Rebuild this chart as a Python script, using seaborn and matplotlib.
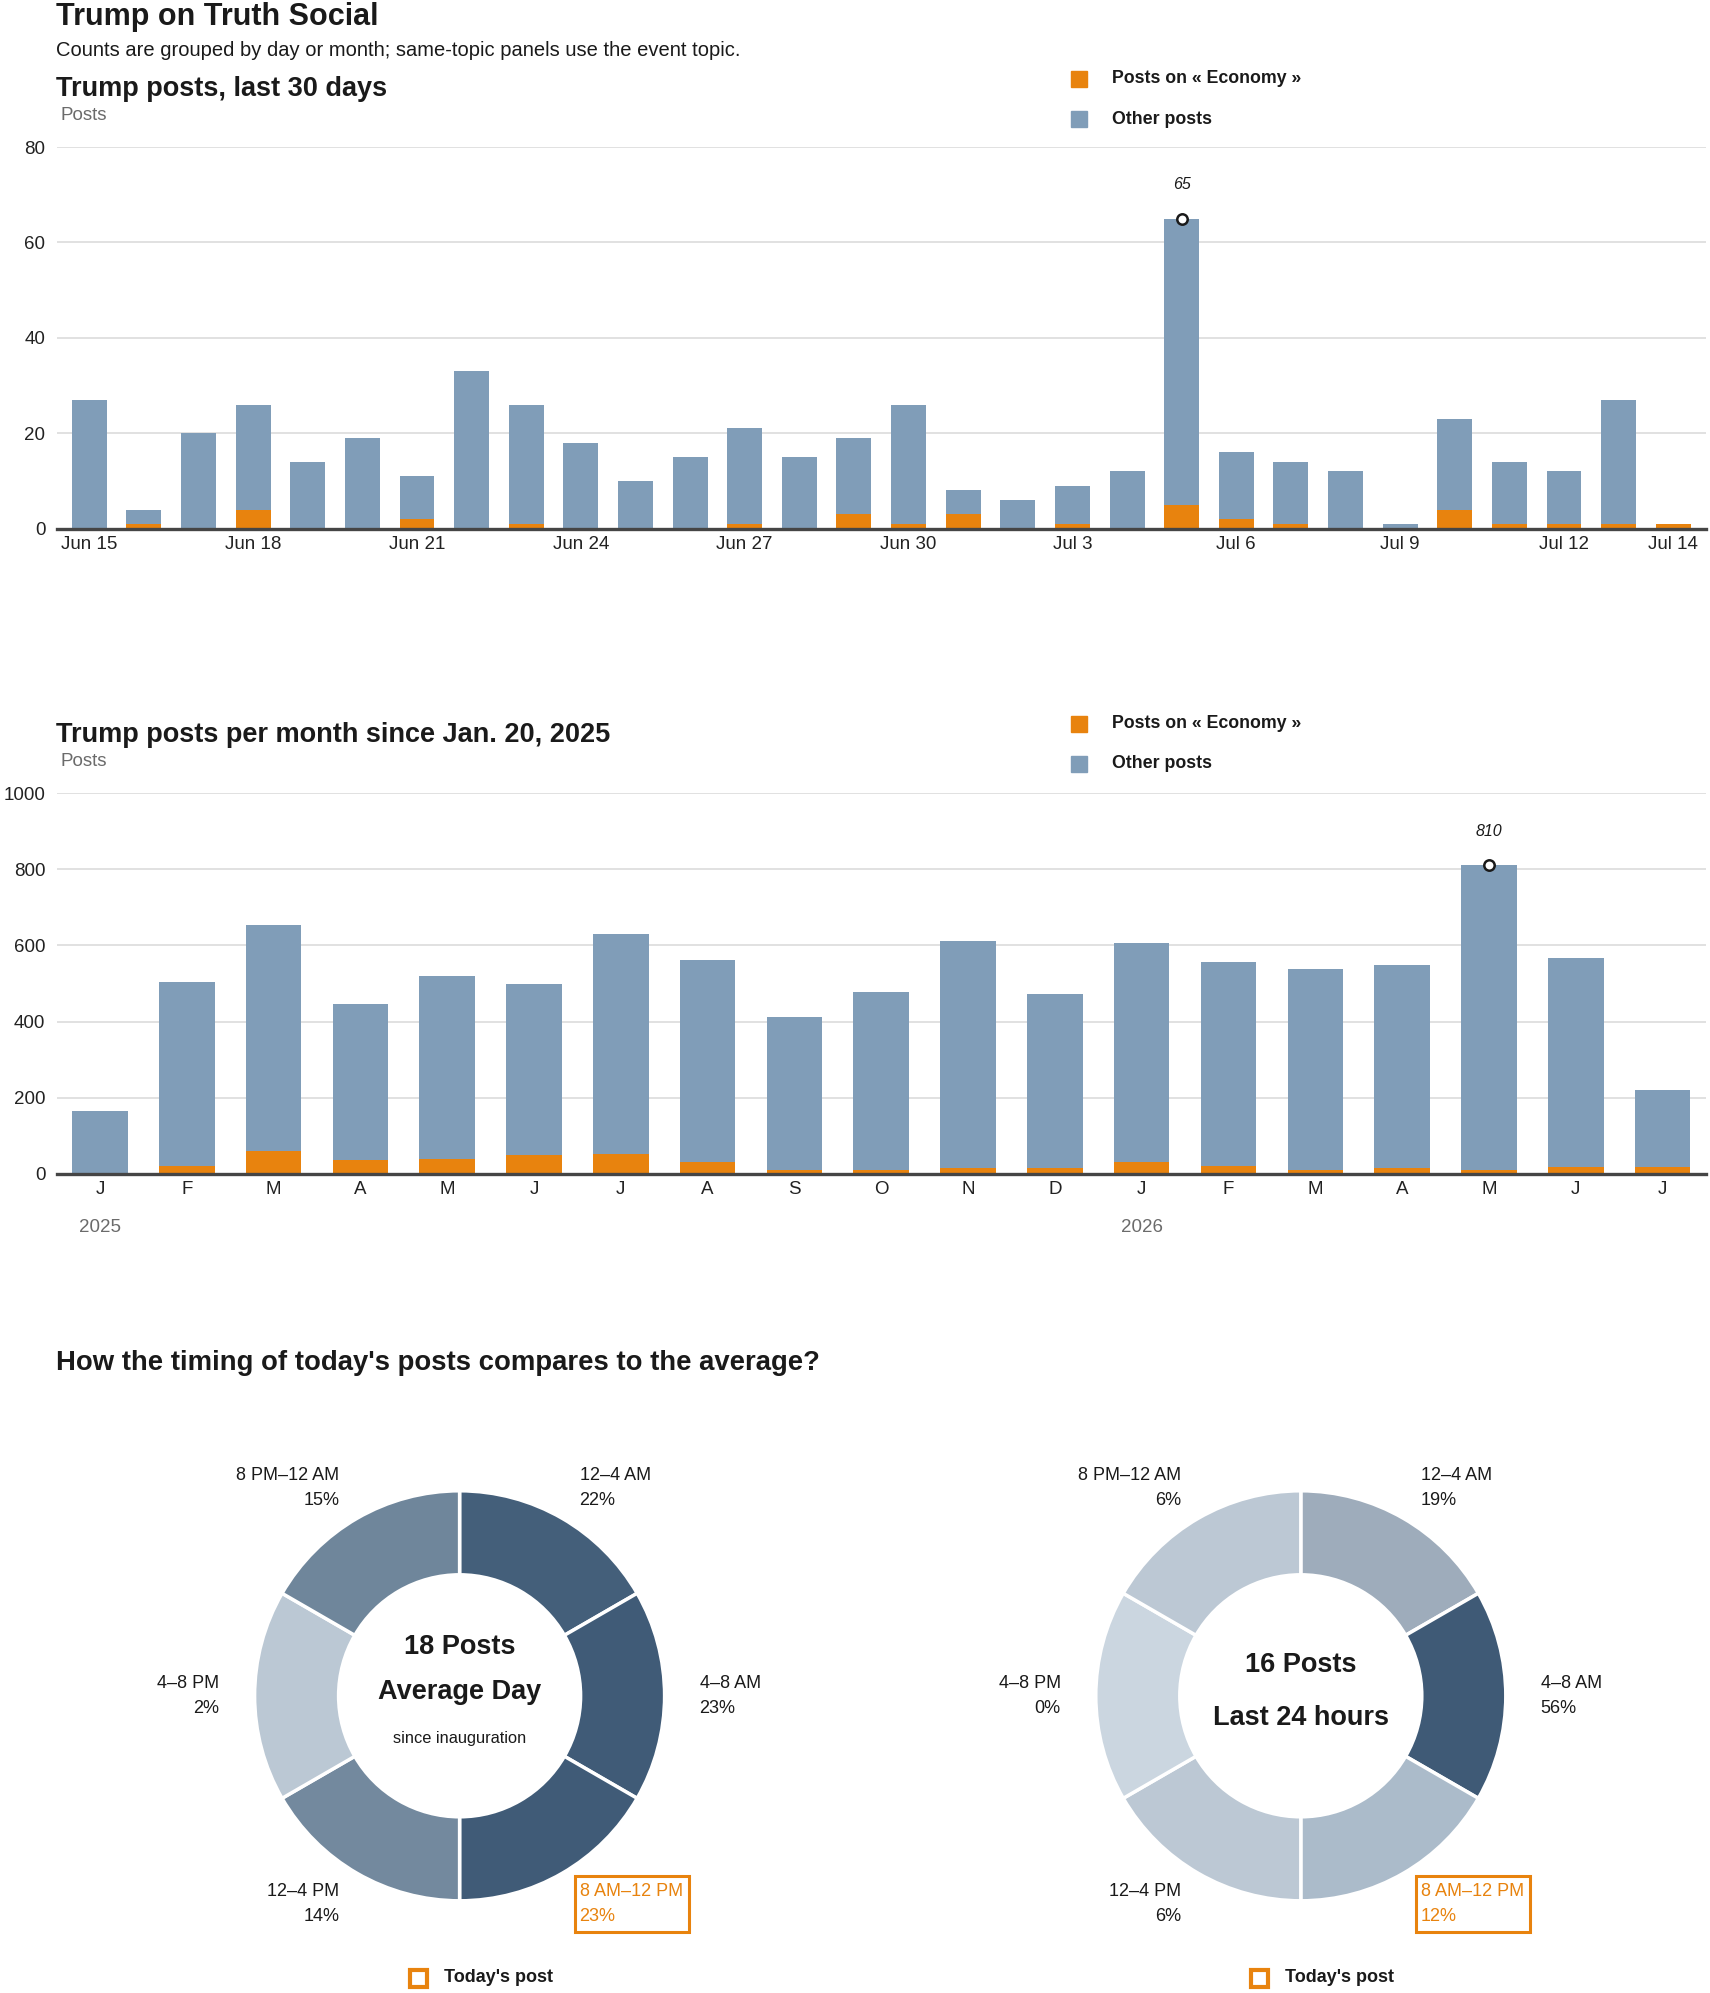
import numpy as np
import pandas as pd
import seaborn as sns
import matplotlib
matplotlib.use("Agg")
import matplotlib.pyplot as plt
from matplotlib.patches import Rectangle

# ---- data ----
day_labels = ["Jun 15", "Jun 16", "Jun 17", "Jun 18", "Jun 19", "Jun 20", "Jun 21", "Jun 22",
              "Jun 23", "Jun 24", "Jun 25", "Jun 26", "Jun 27", "Jun 28", "Jun 29", "Jun 30",
              "Jul 1", "Jul 2", "Jul 3", "Jul 4", "Jul 5", "Jul 6", "Jul 7", "Jul 8",
              "Jul 9", "Jul 10", "Jul 11", "Jul 12", "Jul 13", "Jul 14"]
day_total = [27, 4, 20, 26, 14, 19, 11, 33, 26, 18, 10, 15, 21, 15, 19, 26,
             8, 6, 9, 12, 65, 16, 14, 12, 1, 23, 14, 12, 27, 1]
day_economy = [0, 1, 0, 4, 0, 0, 2, 0, 1, 0, 0, 0, 1, 0, 3, 1,
               3, 0, 1, 0, 5, 2, 1, 0, 0, 4, 1, 1, 1, 1]
day_ticks = ["Jun 15", "Jun 18", "Jun 21", "Jun 24", "Jun 27", "Jun 30",
             "Jul 3", "Jul 6", "Jul 9", "Jul 12", "Jul 14"]

month_keys = ["2025-01", "2025-02", "2025-03", "2025-04", "2025-05", "2025-06", "2025-07",
              "2025-08", "2025-09", "2025-10", "2025-11", "2025-12", "2026-01", "2026-02",
              "2026-03", "2026-04", "2026-05", "2026-06", "2026-07"]
month_letters = ["J", "F", "M", "A", "M", "J", "J", "A", "S", "O", "N", "D",
                 "J", "F", "M", "A", "M", "J", "J"]
month_total = [165, 504, 654, 447, 520, 499, 630, 562, 412, 477, 612, 473,
               607, 556, 538, 549, 810, 568, 220]
month_economy = [2, 21, 60, 37, 39, 50, 53, 32, 10, 10, 17, 17, 32, 21, 10, 17, 10, 19, 19]
year_marks = {"2025-01": "2025", "2026-01": "2026"}

slots = ["12–4 AM", "4–8 AM", "8 AM–12 PM", "12–4 PM", "4–8 PM", "8 PM–12 AM"]
avg_pct = [22, 23, 23, 14, 2, 15]
today_pct = [19, 56, 12, 6, 0, 6]
avg_posts = 18
today_posts = 16
today_slot = "8 AM–12 PM"

# ---- style ----
ORANGE = "#e8830e"
BLUE = "#809db8"
INK = "#1a1a1a"
GREY = "#6b6b6b"
avg_colors = ["#445f7a", "#405b77", "#405b77", "#73899e", "#bbc8d4", "#6f869b"]
today_colors = ["#9eacbb", "#3f5a76", "#abbbca", "#bcc8d4", "#cbd6e0", "#bcc8d4"]

sns.set_theme(style="white")
FONT = ["Liberation Sans", "DejaVu Sans"]
plt.rcParams["font.family"] = FONT

W, H = 1710, 1993
fig = plt.figure(figsize=(W / 100, H / 100), dpi=100)


def fx(x):
    return x / W


def fy(y):
    return 1 - y / H


def add_bar_axes(top_px, bottom_px):
    return fig.add_axes([fx(56.5), fy(bottom_px), fx(1706) - fx(56.5), (bottom_px - top_px) / H])


def style_axes(ax, ymax, step):
    ax.set_ylim(0, ymax)
    ax.set_yticks(np.arange(0, ymax + 1, step))
    ax.grid(axis="y", color="#dcdcdc", linewidth=1.2)
    ax.grid(axis="x", visible=False)
    ax.set_axisbelow(True)
    for s in ["top", "right", "left"]:
        ax.spines[s].set_visible(False)
    ax.spines["bottom"].set_color("#454545")
    ax.spines["bottom"].set_linewidth(2.4)
    ax.spines["bottom"].set_zorder(5)
    ax.tick_params(axis="both", length=0, labelsize=13.5, colors="#222222")
    ax.tick_params(axis="y", pad=8)
    ax.tick_params(axis="x", pad=5)
    ax.set_xlabel("")
    ax.set_ylabel("")


def legend_block(y1, y2):
    for yy, col, lab in [(y1, ORANGE, "Posts on « Economy »"), (y2, BLUE, "Other posts")]:
        fig.patches.append(Rectangle((fx(1071), fy(yy + 8)), 16 / W, 16 / H,
                                     transform=fig.transFigure, color=col))
        fig.text(fx(1112), fy(yy), lab, fontsize=12.8, fontweight="bold", color=INK,
                 va="center", ha="left")


def mark_peak(ax, xs, totals):
    i = int(np.argmax(totals))
    ax.plot([xs[i]], [totals[i]], marker="o", ms=7.5, mfc="white", mec=INK, mew=1.8,
            zorder=6, clip_on=False)
    ax.annotate(str(totals[i]), (xs[i], totals[i]), xytext=(0, 19), textcoords="offset points",
                ha="center", va="bottom", fontsize=11.5, fontstyle="italic", color=INK)


# ---- header ----
fig.text(fx(56), fy(17), "Trump on Truth Social", fontsize=22, fontweight="bold",
         color=INK, va="center", ha="left")
fig.text(fx(56), fy(51), "Counts are grouped by day or month; same-topic panels use the event topic.",
         fontsize=14.5, color=INK, va="center", ha="left")

# ---- panel 1: last 30 days ----
daily = pd.DataFrame({"day": day_labels, "total": day_total, "economy": day_economy})
ax1 = add_bar_axes(147, 528.6)
sns.barplot(data=daily, x="day", y="total", color=BLUE, saturation=1, width=0.64,
            linewidth=0, ax=ax1)
sns.barplot(data=daily, x="day", y="economy", color=ORANGE, saturation=1, width=0.64,
            linewidth=0, ax=ax1)
style_axes(ax1, 80, 20)
ax1.set_xlim(-0.6, len(day_labels) - 0.4)
ax1.set_xticks([day_labels.index(t) for t in day_ticks])
ax1.set_xticklabels(day_ticks)
mark_peak(ax1, np.arange(len(day_total)), day_total)
fig.text(fx(56), fy(89), "Trump posts, last 30 days", fontsize=19.5, fontweight="bold",
         color=INK, va="center", ha="left")
fig.text(fx(60), fy(116), "Posts", fontsize=13.5, color=GREY, va="center", ha="left")
legend_block(78.6, 119)

# ---- panel 2: monthly ----
monthly = pd.DataFrame({"month": month_keys, "total": month_total, "economy": month_economy})
ax2 = add_bar_axes(793, 1174)
sns.barplot(data=monthly, x="month", y="total", color=BLUE, saturation=1, width=0.64,
            linewidth=0, ax=ax2)
sns.barplot(data=monthly, x="month", y="economy", color=ORANGE, saturation=1, width=0.64,
            linewidth=0, ax=ax2)
style_axes(ax2, 1000, 200)
ax2.set_xlim(-0.5, len(month_keys) - 0.5)
ax2.set_xticks(range(len(month_keys)))
ax2.set_xticklabels(month_letters)
mark_peak(ax2, np.arange(len(month_total)), month_total)
for key, yr in year_marks.items():
    ax2.annotate(yr, (month_keys.index(key), 0), xycoords=("data", "axes fraction"),
                 xytext=(0, -53), textcoords="offset pixels", ha="center", va="center",
                 fontsize=13.5, color=GREY)
fig.text(fx(56), fy(735), "Trump posts per month since Jan. 20, 2025", fontsize=19.5,
         fontweight="bold", color=INK, va="center", ha="left")
fig.text(fx(60), fy(761), "Posts", fontsize=13.5, color=GREY, va="center", ha="left")
legend_block(724, 764)

# ---- donuts ----
fig.text(fx(56), fy(1363), "How the timing of today's posts compares to the average?",
         fontsize=19.8, fontweight="bold", color=INK, va="center", ha="left")

R_OUT, R_IN, R_LAB = 205, 121, 240


def donut(cx, cy, pcts, colors, line1, line2, line3):
    half = 330
    ax = fig.add_axes([fx(cx - half), fy(cy + half), 2 * half / W, 2 * half / H])
    ax.pie([1] * len(slots), colors=colors, startangle=90, counterclock=False, radius=R_OUT,
           wedgeprops=dict(width=R_OUT - R_IN, edgecolor="white", linewidth=2.5))
    ax.set_xlim(-half, half)
    ax.set_ylim(-half, half)
    ax.set_aspect("equal")
    ax.axis("off")
    for k, (slot, p) in enumerate(zip(slots, pcts)):
        ang = np.deg2rad(90 - 60 * k - 30)
        lx, ly = R_LAB * np.cos(ang), R_LAB * np.sin(ang)
        ha = "left" if lx > 1 else "right"
        col = ORANGE if slot == today_slot else INK
        ax.text(lx, ly, f"{slot}\n{p}%", ha=ha, va="center", fontsize=13, color=col,
                linespacing=1.6)
        if slot == today_slot:
            ax.add_patch(Rectangle((lx - 5, ly - 28), 114, 56, fill=False, edgecolor=ORANGE,
                                   linewidth=2.2, clip_on=False))
    if line3:
        ax.text(0, 48.8, line1, ha="center", va="center", fontsize=19.5, fontweight="bold",
                color=INK)
        ax.text(0, 3.8, line2, ha="center", va="center", fontsize=19.5, fontweight="bold",
                color=INK)
        ax.text(0, -43.2, line3, ha="center", va="center", fontsize=11.8, color=INK)
    else:
        ax.text(0, 30.8, line1, ha="center", va="center", fontsize=19.5, fontweight="bold",
                color=INK)
        ax.text(0, -22.2, line2, ha="center", va="center", fontsize=19.5, fontweight="bold",
                color=INK)
    # today's post key
    ax.add_patch(Rectangle((-49.6, -(1979 - cy) - 8), 17, 17, fill=False,
                           edgecolor=ORANGE, linewidth=3, clip_on=False))
    ax.text(-15.6, -(1977 - cy), "Today's post", ha="left", va="center", fontsize=13,
            fontweight="bold", color=INK)


donut(459.6, 1695.8, avg_pct, avg_colors, f"{avg_posts} Posts", "Average Day", "since inauguration")
donut(1300.8, 1695.8, today_pct, today_colors, f"{today_posts} Posts", "Last 24 hours", None)

fig.savefig("out.png", dpi=100)
